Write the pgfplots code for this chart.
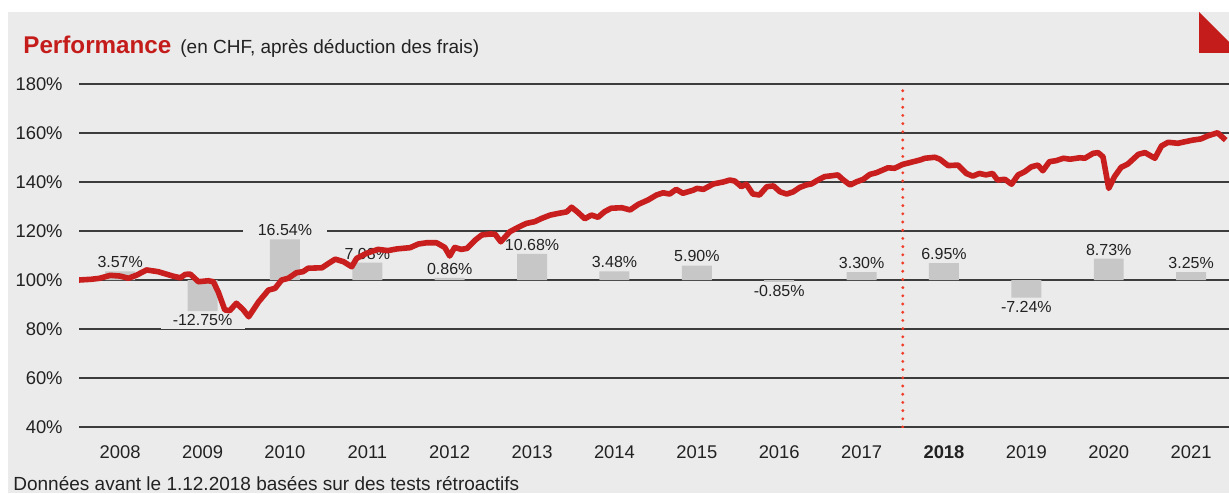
\documentclass[border=0pt]{standalone}
\usepackage{pgfplots}
\pgfplotsset{compat=1.18}
\usepackage{pgfplotstable}
\usepackage{fontspec}
\setmainfont{Liberation Sans}
\definecolor{bgc}{RGB}{235,235,235}
\definecolor{barc}{RGB}{198,199,198}
\definecolor{linec}{RGB}{200,30,30}
\definecolor{cornerred}{RGB}{196,28,26}
\definecolor{gridc}{RGB}{60,60,60}
\definecolor{txt}{RGB}{34,34,34}
\definecolor{dotc}{RGB}{240,60,40}

\pgfplotstableread{
t v
2008.00 100.0
2008.15 100.3
2008.25 100.7
2008.38 101.9
2008.50 101.6
2008.60 100.7
2008.70 102.0
2008.82 104.1
2008.96 103.4
2009.06 102.4
2009.14 101.6
2009.23 100.9
2009.29 102.3
2009.35 102.4
2009.45 99.3
2009.57 99.7
2009.63 99.3
2009.69 95.2
2009.77 87.8
2009.83 87.5
2009.91 90.5
2009.99 88.0
2010.06 85.0
2010.18 91.1
2010.30 95.9
2010.38 96.6
2010.46 100.0
2010.54 100.7
2010.64 103.0
2010.72 103.4
2010.78 104.8
2010.95 105.0
2011.03 106.8
2011.11 108.5
2011.21 107.5
2011.31 105.4
2011.37 108.8
2011.49 110.9
2011.63 112.5
2011.75 112.0
2011.86 112.7
2012.02 113.2
2012.12 114.7
2012.22 115.2
2012.34 115.2
2012.44 113.3
2012.50 109.8
2012.56 113.3
2012.64 112.5
2012.71 112.9
2012.81 116.3
2012.89 118.4
2012.99 118.8
2013.05 118.7
2013.12 115.6
2013.23 119.7
2013.33 121.5
2013.43 123.1
2013.53 123.8
2013.62 125.2
2013.72 126.5
2013.82 127.2
2013.92 127.8
2013.98 129.7
2014.06 127.5
2014.14 125.0
2014.22 126.5
2014.30 125.6
2014.38 127.9
2014.46 129.3
2014.59 129.5
2014.69 128.6
2014.79 130.9
2014.91 132.7
2015.01 134.7
2015.09 135.6
2015.17 135.1
2015.25 137.0
2015.33 135.4
2015.46 136.7
2015.50 137.4
2015.58 137.0
2015.70 139.2
2015.82 140.0
2015.90 140.8
2015.96 140.4
2016.04 138.1
2016.10 139.1
2016.18 135.1
2016.26 134.7
2016.35 138.1
2016.43 138.4
2016.51 136.0
2016.59 135.1
2016.67 136.0
2016.75 137.8
2016.83 138.8
2016.89 139.2
2016.97 140.8
2017.05 142.2
2017.15 142.6
2017.21 142.9
2017.28 140.8
2017.36 138.8
2017.44 140.1
2017.52 141.1
2017.60 143.1
2017.68 143.8
2017.82 145.8
2017.90 145.6
2018.00 147.2
2018.13 148.3
2018.21 149.0
2018.27 149.7
2018.39 150.1
2018.45 149.3
2018.55 146.7
2018.67 146.9
2018.77 143.5
2018.85 142.4
2018.93 143.5
2019.01 142.9
2019.09 143.5
2019.15 140.8
2019.24 141.1
2019.32 139.1
2019.40 142.9
2019.48 144.2
2019.56 146.2
2019.64 146.9
2019.70 144.6
2019.78 148.3
2019.86 148.7
2019.95 149.7
2020.03 149.3
2020.15 149.9
2020.21 149.7
2020.31 151.7
2020.37 152.0
2020.43 150.3
2020.50 137.4
2020.57 142.2
2020.65 146.0
2020.73 147.3
2020.86 151.3
2020.94 152.0
2021.06 149.7
2021.14 154.7
2021.22 156.2
2021.34 155.8
2021.42 156.4
2021.52 157.1
2021.62 157.6
2021.70 158.8
2021.82 160.1
2021.92 157.1
}\perf

\pgfplotstableread{
x r
2008.5 3.57
2009.5 -12.75
2010.5 16.54
2011.5 7.08
2012.5 0.86
2013.5 10.68
2014.5 3.48
2015.5 5.90
2016.5 -0.85
2017.5 3.30
2018.5 6.95
2019.5 -7.24
2020.5 8.73
2021.5 3.25
}\bars

\begin{document}
\begin{tikzpicture}[x=0.5pt,y=0.5pt]
\path[use as bounding box] (0,0) rectangle (1229,493);
\clip (0,0) rectangle (1229,493);
\fill[bgc] (8,0) rectangle (1229,481);
\fill[cornerred] (1199,481) -- (1229,451) -- (1229,440) -- (1199,440) -- cycle;
\node[anchor=base west, inner sep=0pt, text=cornerred, font=\fontsize{12.1}{14}\selectfont\bfseries] at (23,439) {Performance};
\node[anchor=base west, inner sep=0pt, text=txt, font=\fontsize{9.5}{11}\selectfont] at (180,439) {(en CHF, après déduction des frais)};
\node[anchor=base west, inner sep=0pt, text=txt, font=\fontsize{9.5}{11}\selectfont] at (13,3) {Données avant le 1.12.2018 basées sur des tests rétroactifs};
\begin{axis}[
  clip mode=individual,
  at={(39.5pt,33pt)}, anchor=south west,
  scale only axis, width=575pt, height=171.5pt,
  xmin=2008, xmax=2021.96, ymin=-60, ymax=80,
  axis line style={draw=none}, major tick length=0pt,
  ytick={-60,-40,-20,0,20,40,60,80},
  yticklabel={\pgfmathparse{\tick+100}\pgfmathprintnumber[fixed,precision=0]{\pgfmathresult}\%},
  ymajorgrids, grid style={gridc, line width=0.8pt},
  xtick={2008.5,2009.5,2010.5,2011.5,2012.5,2013.5,2014.5,2015.5,2016.5,2017.5,2018.5,2019.5,2020.5,2021.5},
  xticklabels={2008,2009,2010,2011,2012,2013,2014,2015,2016,2017,\textbf{2018},2019,2020,2021},
  /pgf/number format/assume math mode=true,
  tick label style={font=\fontsize{9.2}{11}\selectfont, text=txt},
  yticklabel style={anchor=east, inner sep=0pt, xshift=-8pt},
  xticklabel style={anchor=base, inner sep=0pt, yshift=-15.5pt},
]
\addplot[ybar, bar width=0.364, fill=barc, draw=none,
  point meta=y,
  nodes near coords={\pgfmathprintnumber[fixed,precision=2,fixed zerofill]{\pgfplotspointmeta}\%},
  nodes near coords style={font=\fontsize{8}{10}\selectfont, text=txt, fill=bgc, minimum width=42pt, inner xsep=0pt, inner ysep=1.5pt},
] table[x=x,y=r]{\bars};
\addplot[no marks, dotc, line width=1.6pt, line cap=round, dash pattern=on 0pt off 4.1pt] coordinates {(2018,-60) (2018,80)};
\addplot[no marks, line width=2.8pt, linec, line join=round] table[x=t, y expr=\thisrow{v}-100]{\perf};
\end{axis}
\end{tikzpicture}
\end{document}
